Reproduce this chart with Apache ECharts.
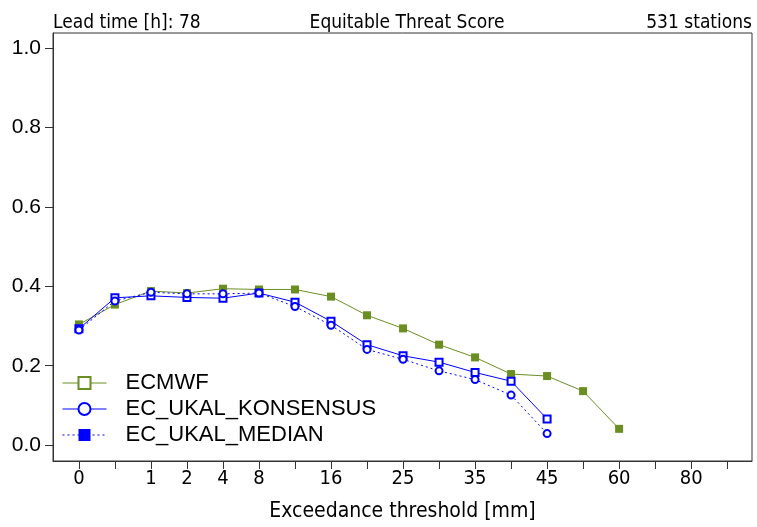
<!DOCTYPE html>
<html>
<head>
<meta charset="utf-8">
<script src="https://cdn.jsdelivr.net/npm/echarts@6/dist/echarts.min.js"></script>
<style>
  html, body { margin: 0; padding: 0; background: #fff; }
  #chart { width: 757px; height: 527px; }
</style>
</head>
<body>
<div id="chart"></div>
<script>
// thresholds on the x axis (evenly spaced), only some are labelled
var xLabels = ['0', '', '1', '2', '4', '8', '', '16', '', '25', '', '35', '', '45', '', '60', '', '80', ''];
var yTicks = [0, 0.2, 0.4, 0.6, 0.8, 1.0];

var ecmwf = [0.304, 0.354, 0.388, 0.383, 0.394, 0.392, 0.392, 0.374, 0.327, 0.294, 0.253, 0.221, 0.179, 0.174, 0.136, 0.041];
var konsensus = [0.293, 0.371, 0.376, 0.372, 0.370, 0.383, 0.360, 0.312, 0.253, 0.225, 0.209, 0.183, 0.161, 0.066];
var median = [0.290, 0.363, 0.385, 0.381, 0.381, 0.383, 0.349, 0.302, 0.241, 0.216, 0.187, 0.165, 0.126, 0.029];

var legendNames = ['ECMWF', 'EC_UKAL_KONSENSUS', 'EC_UKAL_MEDIAN'];

function toPoints(arr) {
  return arr.map(function (v, i) { return [i, v]; });
}

var tickIdx = xLabels.map(function (l, i) { return i; });
var labelIdx = tickIdx.filter(function (i) { return xLabels[i] !== ''; });

var green = '#6b8e23';
var blue = '#0000ff';
var narrow = '"Liberation Sans Narrow", "DejaVu Sans Condensed", "Liberation Sans", sans-serif';
var regular = '"Liberation Sans", Arial, sans-serif';

var myChart = echarts.init(document.getElementById('chart'));

// the legend of the original plot shows other symbols than the curves,
// so the legend entries come from empty helper series
function legendSeries(name, symbol, color, lineType) {
  return {
    name: name,
    type: 'line',
    symbol: symbol,
    symbolSize: 8,
    itemStyle: { color: color, borderWidth: 1 },
    lineStyle: { color: color, width: 1, type: lineType },
    data: []
  };
}

option = {
  animation: false,
  title: [
    { text: 'Lead time [h]: 78', left: 48, top: 9,
      textStyle: { fontFamily: narrow, fontWeight: 'normal', fontSize: 19, color: '#000' } },
    { text: 'Equitable Threat Score', left: 402, top: 9, textAlign: 'center',
      textStyle: { fontFamily: narrow, fontWeight: 'normal', fontSize: 19, color: '#000' } },
    { text: '531 stations', right: 0, top: 9,
      textStyle: { fontFamily: narrow, fontWeight: 'normal', fontSize: 19, color: '#000' } }
  ],
  legend: {
    orient: 'vertical',
    left: 57,
    top: 367,
    itemWidth: 44,
    itemHeight: 15,
    itemGap: 4,
    itemStyle: { borderWidth: 1 },
    lineStyle: { width: 1 },
    textStyle: { fontFamily: regular, fontSize: 22, lineHeight: 22, color: '#000', padding: [0, 0, 0, 14] },
    data: legendNames
  },
  grid: {
    left: 53, right: 5, top: 33, bottom: 64,
    show: true, borderColor: '#333', borderWidth: 1
  },
  xAxis: {
    type: 'value',
    min: -0.72,
    max: 18.69,
    name: 'Exceedance threshold [mm]',
    nameLocation: 'middle',
    nameGap: 40,
    nameTextStyle: { fontFamily: narrow, fontSize: 21, color: '#000' },
    axisLine: { show: true, onZero: false, lineStyle: { color: '#333' } },
    axisTick: { show: true, length: 8, customValues: tickIdx, lineStyle: { color: '#333' } },
    axisLabel: {
      customValues: labelIdx,
      margin: 8,
      fontFamily: narrow, fontSize: 20, color: '#000',
      formatter: function (v) { return xLabels[Math.round(v)] || ''; }
    },
    splitLine: { show: false }
  },
  yAxis: {
    type: 'value',
    min: -0.04,
    max: 1.038,
    axisLine: { show: true, onZero: false, lineStyle: { color: '#333' } },
    axisTick: { show: true, length: 8, customValues: yTicks, lineStyle: { color: '#333' } },
    axisLabel: {
      customValues: yTicks,
      margin: 12,
      fontFamily: regular, fontSize: 21, color: '#000',
      formatter: function (v) { return v.toFixed(1); }
    },
    splitLine: { show: false }
  },
  series: [
    {
      name: 'ECMWF data',
      type: 'line',
      symbol: 'rect',
      symbolSize: 8,
      itemStyle: { color: green },
      lineStyle: { color: green, width: 1 },
      data: toPoints(ecmwf)
    },
    {
      name: 'EC_UKAL_KONSENSUS data',
      type: 'line',
      symbol: 'emptyRect',
      symbolSize: 7,
      itemStyle: { color: blue, borderWidth: 1 },
      lineStyle: { color: blue, width: 1 },
      data: toPoints(konsensus)
    },
    {
      name: 'EC_UKAL_MEDIAN data',
      type: 'line',
      symbol: 'emptyCircle',
      symbolSize: 7,
      itemStyle: { color: blue, borderWidth: 1 },
      lineStyle: { color: blue, width: 1, type: [2, 3] },
      data: toPoints(median)
    },
    legendSeries(legendNames[0], 'emptyRect', green, 'solid'),
    legendSeries(legendNames[1], 'emptyCircle', blue, 'solid'),
    legendSeries(legendNames[2], 'rect', blue, [2, 3])
  ]
};

myChart.setOption(option);
</script>
</body>
</html>
